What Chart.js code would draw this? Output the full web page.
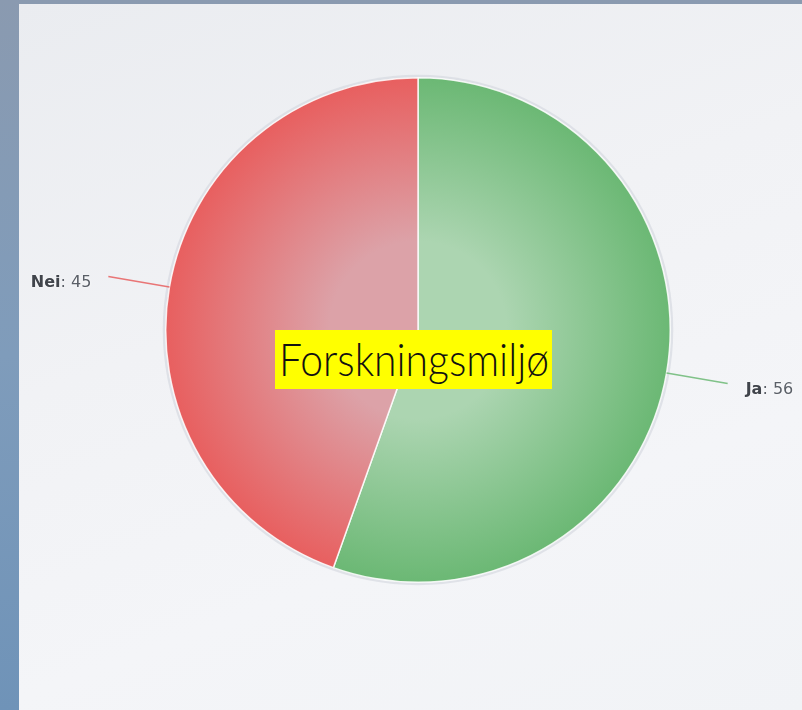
<!DOCTYPE html>
<html>
<head>
<meta charset="utf-8">
<script src="https://cdn.jsdelivr.net/npm/chart.js@4.4.1/dist/chart.umd.min.js"></script>
<style>
  html, body { margin: 0; padding: 0; }
  body {
    width: 802px; height: 710px; overflow: hidden; position: relative;
    background: linear-gradient(180deg, #8a9ab0 0%, #7f9cbb 50%, #6f93b8 100%);
  }
  #panel {
    position: absolute; left: 19px; top: 4px; width: 783px; height: 706px;
    background: linear-gradient(160deg, #eaecf0 0%, #f1f2f5 40%, #f4f5f8 70%, #f1f3f6 100%);
  }
  #panel canvas { position: absolute; left: 0; top: 0; }
  #title {
    position: absolute; left: 256px; top: 326px; width: 277px; height: 59px;
    background: #ffff00; color: #111; overflow: visible;
    font-family: Lato, "Noto Sans", sans-serif; font-weight: 300;
    font-size: 45px; line-height: 59px; white-space: nowrap;
  }
  #title span {
    position: absolute; left: 50%; top: 0;
    transform-origin: center; transform: translateX(-50%);
  }
</style>
</head>
<body>
<div id="panel">
  <canvas id="pie" width="783" height="706"></canvas>
  <div id="title"><span id="titleText">Forskningsmiljø</span></div>
</div>
<script>
// ── Data ────────────────────────────────────────────────
const labels = ['Ja', 'Nei'];
const values = [56, 45];
const edgeColors = ['#6bb874', '#e85f5f'];
const centerColors = ['#acd5b1', '#dca2a8'];

// fit title width to the yellow box
(function () {
  const t = document.getElementById('titleText');
  const w = t.getBoundingClientRect().width;
  t.style.transform = 'translateX(-50%) scaleX(' + (270 / w) + ')';
})();

function radial(ctx, i) {
  const chart = ctx.chart;
  const a = chart.chartArea;
  if (!a) return edgeColors[i];
  const cx = (a.left + a.right) / 2, cy = (a.top + a.bottom) / 2;
  const r = Math.min(a.right - a.left, a.bottom - a.top) / 2;
  const g = chart.ctx.createRadialGradient(cx, cy, 0, cx, cy, r);
  g.addColorStop(0, centerColors[i]);
  g.addColorStop(0.35, centerColors[i]);
  g.addColorStop(1, edgeColors[i]);
  return g;
}

const ringPlugin = {
  id: 'ring',
  beforeDatasetsDraw(chart) {
    const arc = chart.getDatasetMeta(0).data[0];
    if (!arc) return;
    const c = chart.ctx;
    c.save();
    c.beginPath();
    c.arc(arc.x, arc.y, arc.outerRadius + 3, 0, Math.PI * 2);
    c.fillStyle = 'rgba(210,214,222,0.6)';
    c.fill();
    c.restore();
  }
};

const labelPlugin = {
  id: 'outLabels',
  afterDatasetsDraw(chart) {
    const c = chart.ctx;
    const meta = chart.getDatasetMeta(0);
    meta.data.forEach((arc, i) => {
      const mid = (arc.startAngle + arc.endAngle) / 2;
      const cos = Math.cos(mid), sin = Math.sin(mid);
      const r0 = arc.outerRadius, r1 = arc.outerRadius + 62;
      const x0 = arc.x + cos * r0, y0 = arc.y + sin * r0;
      const x1 = arc.x + cos * r1, y1 = arc.y + sin * r1;
      c.save();
      c.strokeStyle = edgeColors[i];
      c.globalAlpha = 0.85;
      c.lineWidth = 1.5;
      c.beginPath();
      c.moveTo(x0, y0);
      c.lineTo(x1, y1);
      c.stroke();
      c.globalAlpha = 1;
      const right = cos >= 0;
      const tx = right ? x1 + 18 : x1 - 17;
      const ty = y1 + 6;
      c.textBaseline = 'middle';
      c.shadowColor = 'rgba(255,255,255,0.9)';
      c.shadowBlur = 3;
      const bold = 'bold 16px "DejaVu Sans", sans-serif';
      const reg = '16px "DejaVu Sans", sans-serif';
      c.font = bold;
      const nameW = c.measureText(labels[i]).width;
      c.font = reg;
      const valTxt = ': ' + values[i];
      const valW = c.measureText(valTxt).width;
      const start = right ? tx : tx - nameW - valW;
      c.textAlign = 'left';
      c.font = bold;
      c.fillStyle = '#40444b';
      c.fillText(labels[i], start, ty);
      c.font = reg;
      c.fillStyle = '#5a5f67';
      c.fillText(valTxt, start + nameW, ty);
      c.restore();
    });
  }
};

new Chart(document.getElementById('pie'), {
  type: 'pie',
  data: {
    labels: labels,
    datasets: [{
      data: values,
      backgroundColor: ctx => radial(ctx, ctx.dataIndex),
      borderColor: 'rgba(255,255,255,0.85)',
      borderWidth: 1.5,
      hoverOffset: 0
    }]
  },
  options: {
    responsive: false,
    animation: false,
    layout: { padding: { left: 146, right: 131, top: 73, bottom: 127 } },
    plugins: {
      legend: { display: false },
      tooltip: { enabled: false },
      title: { display: false }
    }
  },
  plugins: [ringPlugin, labelPlugin]
});
</script>
</body>
</html>
